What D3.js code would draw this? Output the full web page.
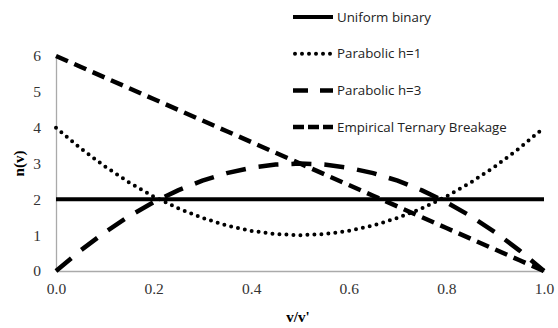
<!DOCTYPE html>
<html>
<head>
<meta charset="utf-8">
<script src="https://cdn.jsdelivr.net/npm/d3@7"></script>
<style>
  body { margin: 0; background: #fff; }
  .eje text { font-family: 'Liberation Serif', serif; font-size: 15.5px; fill: #333; }
  .leyenda text { font-family: 'Open Sans', sans-serif; font-size: 13.3px; fill: #222; }
</style>
</head>
<body>
<div id="graf"></div>
<script>
// I. Datos
ratio = [0, 0.05, 0.1, 0.15, 0.2, 0.25, 0.3, 0.35, 0.4, 0.45, 0.5,
         0.55, 0.6, 0.65, 0.7, 0.75, 0.8, 0.85, 0.9, 0.95, 1]
uniforme  = [2, 2, 2, 2, 2, 2, 2, 2, 2, 2, 2, 2, 2, 2, 2, 2, 2, 2, 2, 2, 2]
parabH1   = [4, 3.43, 2.92, 2.47, 2.08, 1.75, 1.48, 1.27, 1.12, 1.03, 1,
             1.03, 1.12, 1.27, 1.48, 1.75, 2.08, 2.47, 2.92, 3.43, 4]
parabH3   = [0, 0.57, 1.08, 1.53, 1.92, 2.25, 2.52, 2.73, 2.88, 2.97, 3,
             2.97, 2.88, 2.73, 2.52, 2.25, 1.92, 1.53, 1.08, 0.57, 0]
ternaria  = [6, 5.7, 5.4, 5.1, 4.8, 4.5, 4.2, 3.9, 3.6, 3.3, 3,
             2.7, 2.4, 2.1, 1.8, 1.5, 1.2, 0.9, 0.6, 0.3, 0]
nombres   = ['Uniform binary', 'Parabolic h=1', 'Parabolic h=3', 'Empirical Ternary Breakage']
xTicks    = [0, 0.2, 0.4, 0.6, 0.8, 1]
yTicks    = [0, 1, 2, 3, 4, 5, 6]

// II. Configuración
ancho_total = 558
alto_total = 328
margins = { top: 56, left: 56, right: 14, bottom: 57 }
ancho = ancho_total - margins.left - margins.right
alto  = alto_total - margins.top - margins.bottom

svg = d3.select('#graf').append('svg')
        .attr('width', ancho_total)
        .attr('height', alto_total)

g = svg.append('g')
       .attr('transform', `translate(${ margins.left }, ${ margins.top })`)

x = d3.scaleLinear().domain([0, 1]).range([0, ancho])
y = d3.scaleLinear().domain([0, 6]).range([alto, 0])

// estilos de línea
estilos = [
  { dash: null,    cap: 'butt',  w: 4 },
  { dash: '0 7',   cap: 'round', w: 4 },
  { dash: '20 13', cap: 'butt',  w: 4.5 },
  { dash: '13 7',  cap: 'butt',  w: 4.5 }
]
series = [uniforme, parabH1, parabH3, ternaria]

// ejes
xAxisGroup = g.append('g')
              .attr('class', 'eje')
              .attr('transform', `translate(0, ${ alto })`)
              .call(d3.axisBottom(x).tickValues(xTicks).tickFormat(d3.format('.1f')).tickSize(0).tickPadding(12))
yAxisGroup = g.append('g')
              .attr('class', 'eje')
              .call(d3.axisLeft(y).tickValues(yTicks).tickFormat(d3.format('d')).tickSize(0).tickPadding(15))
g.selectAll('.eje .domain').attr('stroke', '#aaa').attr('stroke-width', 1.3)

// títulos de ejes
svg.append('text')
   .attr('x', margins.left + x(0.5) - 2)
   .attr('y', 322)
   .attr('text-anchor', 'middle')
   .style('font-family', 'Liberation Serif, serif')
   .style('font-weight', 'bold')
   .style('font-size', '15px')
   .text("v/v'")
svg.append('text')
   .attr('transform', `translate(24, ${ margins.top + y(3) }) rotate(-90)`)
   .attr('text-anchor', 'middle')
   .style('font-family', 'Liberation Serif, serif')
   .style('font-weight', 'bold')
   .style('font-size', '15px')
   .text('n(v)')

// III. render
linea = d3.line().x((d, i) => x(ratio[i])).y(d => y(d))

g.selectAll('path.serie')
 .data(series)
 .enter()
 .append('path')
   .attr('class', 'serie')
   .attr('d', d => linea(d))
   .attr('fill', 'none')
   .attr('stroke', '#000')
   .attr('stroke-width', (d, i) => estilos[i].w)
   .attr('stroke-linecap', (d, i) => estilos[i].cap)
   .attr('stroke-dasharray', (d, i) => estilos[i].dash)

// leyenda
leyenda = svg.append('g').attr('class', 'leyenda')
filas = leyenda.selectAll('g')
               .data(nombres)
               .enter()
               .append('g')
               .attr('transform', (d, i) => `translate(293, ${ 17 + i * 36.7 })`)
filas.append('line')
     .attr('x1', (d, i) => i == 1 ? 2 : 0).attr('x2', 40)
     .attr('stroke', '#000')
     .attr('stroke-width', (d, i) => estilos[i].w)
     .attr('stroke-linecap', (d, i) => estilos[i].cap)
     .attr('stroke-dasharray', (d, i) => i == 2 ? '15 12' : i == 3 ? '11 4' : estilos[i].dash)
filas.append('text')
     .attr('x', 44)
     .attr('dy', '0.35em')
     .text(d => d)
</script>
</body>
</html>
